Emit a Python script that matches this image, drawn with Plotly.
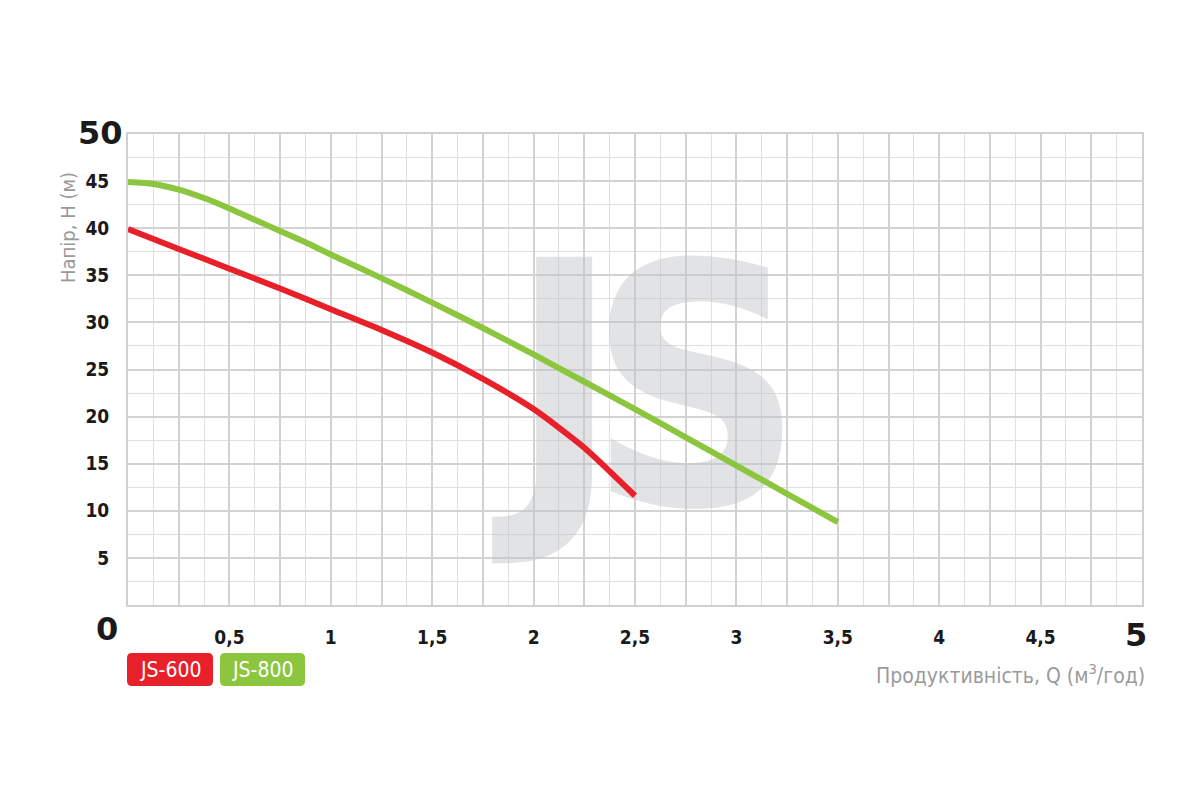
import plotly.graph_objects as go

# ---- data ----
q_js600 = [0, 0.25, 0.5, 0.75, 1.0, 1.25, 1.5, 1.75, 2.0, 2.25, 2.5]
h_js600 = [39.9, 37.8, 35.7, 33.6, 31.4, 29.2, 26.8, 24.0, 20.8, 16.7, 11.6]

q_js800 = [0, 0.125, 0.25, 0.375, 0.5, 0.625, 0.75, 0.875, 1.0, 1.25, 1.5, 1.75, 2.0,
           2.25, 2.5, 2.75, 3.0, 3.25, 3.5]
h_js800 = [44.9, 44.7, 44.1, 43.2, 42.1, 40.9, 39.7, 38.5, 37.2, 34.7, 32.1, 29.4, 26.6,
           23.7, 20.8, 17.8, 14.8, 11.8, 8.8]

series_names = ["JS-600", "JS-800"]
series_colors = ["#e8202a", "#8cc63f"]

x_tickvals = [i * 0.25 for i in range(21)]
x_ticktext = ["" if (i % 2 == 1 or i in (0, 20)) else f"{i*0.25:g}".replace(".", ",") for i in range(21)]
y_tickvals = list(range(0, 51, 5))
y_ticktext = ["" if v in (0, 50) else str(v) for v in y_tickvals]

label_font = "DejaVu Sans Condensed, Liberation Sans Narrow, sans-serif"
wm_font = "Liberation Sans Narrow, DejaVu Sans Condensed, sans-serif"
wm_color = "rgba(190,194,198,0.45)"

# plot-area geometry in pixels (used for paper-coordinate placement of decorations)
PL, PR, PT, PB = 127, 1141, 133, 604
PW, PH = PR - PL, PB - PT


def px_to_paper(px, py):
    return (px - PL) / PW, (PB - py) / PH


def rounded_rect(x0, y0, x1, y1, r=5):
    ax0, ay1 = px_to_paper(x0, y0)
    ax1, ay0 = px_to_paper(x1, y1)
    rx, ry = r / PW, r / PH
    return (f"M {ax0+rx},{ay1} L {ax1-rx},{ay1} Q {ax1},{ay1} {ax1},{ay1-ry} "
            f"L {ax1},{ay0+ry} Q {ax1},{ay0} {ax1-rx},{ay0} L {ax0+rx},{ay0} "
            f"Q {ax0},{ay0} {ax0},{ay0+ry} L {ax0},{ay1-ry} Q {ax0},{ay1} {ax0+rx},{ay1} Z")


fig = go.Figure()

# watermark letters (drawn under the curves)
fig.add_trace(go.Scatter(x=[2.15], y=[20.2], mode="text", text=["J"], hoverinfo="skip",
                         textfont=dict(family=wm_font, size=330, color=wm_color, weight="bold"),
                         showlegend=False))
fig.add_trace(go.Scatter(x=[2.80], y=[19.6], mode="text", text=["S"], hoverinfo="skip",
                         textfont=dict(family=wm_font, size=335, color=wm_color, weight="bold"),
                         showlegend=False))

fig.add_trace(go.Scatter(x=q_js800, y=h_js800, mode="lines", name=series_names[1],
                         line=dict(color=series_colors[1], width=6, shape="spline", smoothing=0.6),
                         showlegend=False))
fig.add_trace(go.Scatter(x=q_js600, y=h_js600, mode="lines", name=series_names[0],
                         line=dict(color=series_colors[0], width=6, shape="spline", smoothing=0.6),
                         showlegend=False))

grid_major = "#d3d3d3"
grid_minor = "#e0e0e0"

fig.update_xaxes(range=[0, 5], tickmode="array", tickvals=x_tickvals, ticktext=x_ticktext,
                 showgrid=True, gridcolor=grid_major, gridwidth=2,
                 minor=dict(tick0=0, dtick=0.125, showgrid=True, gridcolor=grid_minor, gridwidth=1),
                 showline=True, mirror=True, linecolor="#d0d0d0", linewidth=2,
                 ticks="", ticklabelstandoff=14, zeroline=False,
                 tickfont=dict(family=label_font, size=19, color="#1a1a1a", weight="bold"))
fig.update_yaxes(range=[0, 50], tickmode="array", tickvals=y_tickvals, ticktext=y_ticktext,
                 showgrid=True, gridcolor=grid_major, gridwidth=2,
                 minor=dict(tick0=0, dtick=2.5, showgrid=True, gridcolor=grid_minor, gridwidth=1),
                 showline=True, mirror=True, linecolor="#d0d0d0", linewidth=2,
                 ticks="", ticklabelstandoff=13, zeroline=False,
                 tickfont=dict(family=label_font, size=19, color="#1a1a1a", weight="bold"))

big_font = dict(family="DejaVu Sans, sans-serif", size=32, color="#1a1a1a", weight="bold")
yt_x, yt_y = px_to_paper(67, 227)
annotations = [
    dict(text="50", x=0, y=50, xref="x", yref="y", xanchor="right", yanchor="middle",
         xshift=-3, yshift=1, showarrow=False, font=big_font),
    dict(text="0", x=0, y=0, xref="x", yref="y", xanchor="right", yanchor="middle",
         xshift=-8, yshift=-24, showarrow=False, font=big_font),
    dict(text="5", x=5, y=0, xref="x", yref="y", xanchor="center", yanchor="middle",
         xshift=-6, yshift=-30, showarrow=False, font=big_font),
    dict(text="Напір, Н (м)", x=yt_x, y=yt_y, xref="paper", yref="paper",
         xanchor="center", yanchor="middle", showarrow=False,
         textangle=-90, font=dict(family=label_font, size=20, color="#9a9a9a")),
    dict(text="Продуктивність, Q (м<sup>3</sup>/год)", x=1, y=0, xref="paper", yref="paper",
         xanchor="right", yanchor="middle", xshift=5, yshift=-69, showarrow=False,
         font=dict(family=label_font, size=21, color="#9a9a9a")),
]

shapes = []
legend_boxes_px = [(126, 652, 212, 685), (219, 652, 304, 685)]
for name, color, (bx0, by0, bx1, by1) in zip(series_names, series_colors, legend_boxes_px):
    shapes.append(dict(type="path", path=rounded_rect(bx0, by0, bx1, by1), xref="paper", yref="paper",
                       fillcolor=color, line=dict(width=0)))
    cx, cy = px_to_paper((bx0 + bx1) / 2, (by0 + by1) / 2)
    annotations.append(dict(text=name, x=cx, y=cy, xref="paper", yref="paper",
                            xanchor="center", yanchor="middle", showarrow=False,
                            font=dict(family=label_font, size=21, color="white")))

fig.update_layout(width=1200, height=800, margin=dict(l=120, r=66, t=126, b=203),
                  paper_bgcolor="white", plot_bgcolor="white", annotations=annotations,
                  shapes=shapes, showlegend=False)

fig.write_html("out.html")
